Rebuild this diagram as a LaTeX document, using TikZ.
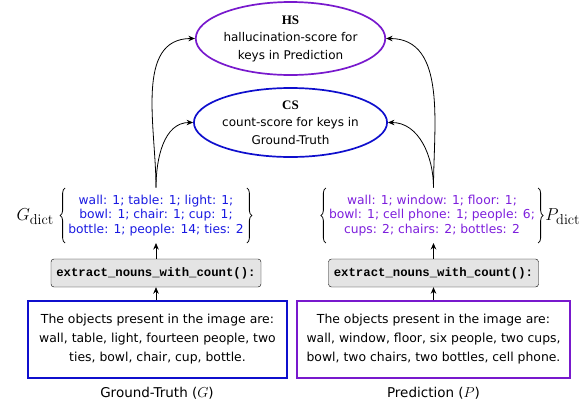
\documentclass[tikz,border=0pt]{standalone}
\usepackage[no-math]{fontspec}
\usetikzlibrary{arrows.meta,shapes.geometric,decorations.pathreplacing,calc}
\newfontfamily\comicf{DejaVu Sans}
\newfontfamily\tahf{DejaVu Sans}
\newfontfamily\codef{Liberation Mono}
\newfontfamily\timesf{Liberation Serif}
\definecolor{gtblue}{RGB}{15,15,205}
\definecolor{dblue}{RGB}{25,25,225}
\definecolor{prpl}{RGB}{120,25,205}
\definecolor{dprpl}{RGB}{125,30,220}
\definecolor{codegray}{RGB}{228,228,228}
\begin{document}
\begin{tikzpicture}[x=1pt,y=-1pt,
  score/.style={ellipse,draw,line width=1.7pt,minimum width=165pt,inner sep=0pt,align=center,font=\tahf\fontsize{12}{17.5}\selectfont},
  codebox/.style={draw,rounded corners=3pt,fill=codegray,minimum width=210pt,minimum height=28pt,inner sep=0pt,font=\codef\bfseries\fontsize{12.3}{14}\selectfont},
  txtbox/.style={draw,line width=1.7pt,minimum height=77pt,inner sep=0pt,align=center,font=\comicf\fontsize{12.4}{19}\selectfont},
  dict/.style={inner sep=0pt,align=center,font=\comicf\fontsize{12.3}{14.5}\selectfont},
  dlabel/.style={inner sep=0pt,font=\fontsize{19}{22}\selectfont},
  captext/.style={inner sep=0pt,font=\tahf\fontsize{13.5}{16}\selectfont},
  bracedeco/.style={decorate,decoration={brace,amplitude=5pt,aspect=0.5},line width=0.8pt},
  arr/.style={-{Stealth[length=6.5pt,width=5.5pt]},line width=0.8pt},
]
\useasboundingbox (0,0) rectangle (586,408);
\node[score,draw=prpl,minimum height=73pt] (hs) at (290.5,38.5)
  {{\timesf\bfseries\fontsize{13}{17.5}\selectfont HS}\\hallucination-score for\\keys in Prediction};
\node[score,draw=gtblue,minimum height=69pt] (cs) at (290.5,122.5)
  {{\timesf\bfseries\fontsize{13}{17.5}\selectfont CS}\\count-score for keys in\\Ground-Truth};
% dictionaries
\node[dict,text=dblue] (gd) at (156,215.5)
  {wall: 1; table: 1; light: 1;\\ bowl: 1; chair: 1; cup: 1;\\ bottle: 1; people: 14; ties: 2};
\node[dict,text=dprpl] (pd) at (432,215.5)
  {wall: 1; window: 1; floor: 1;\\ bowl: 1; cell phone: 1; people: 6;\\ cups: 2; chairs: 2; bottles: 2};
\coordinate (gdt) at ($(gd.center)+(0,-28)$);
\coordinate (gdb) at ($(gd.center)+(0,27.5)$);
\coordinate (pdt) at ($(pd.center)+(0,-28)$);
\coordinate (pdb) at ($(pd.center)+(0,27.5)$);
\draw[bracedeco] ($(gd.west)+(-3,27.5)$) -- ($(gd.west)+(-3,-27.5)$);
\draw[bracedeco] ($(gd.east)+(3,-27.5)$) -- ($(gd.east)+(3,27.5)$);
\draw[bracedeco] ($(pd.west)+(-3,27.5)$) -- ($(pd.west)+(-3,-27.5)$);
\draw[bracedeco] ($(pd.east)+(3,-27.5)$) -- ($(pd.east)+(3,27.5)$);
\node[dlabel,anchor=east] (gl) at ($(gd.west)+(-14,1)$) {$G_{\mathrm{dict}}$};
\node[dlabel,anchor=west] (pl) at ($(pd.east)+(10,1)$) {$P_{\mathrm{dict}}$};
% code boxes
\node[codebox] (gcode) at (156,273) {extract\_nouns\_with\_count():};
\node[codebox] (pcode) at (433.5,273) {extract\_nouns\_with\_count():};
% text boxes
\node[txtbox,draw=gtblue,minimum width=259pt] (gt) at (157.5,339.5)
  {The objects present in the image are:\\wall, table, light, fourteen people, two\\ties, bowl, chair, cup, bottle.};
\node[txtbox,draw=prpl,minimum width=273pt] (pt) at (433.5,339.5)
  {The objects present in the image are:\\wall, window, floor, six people, two cups,\\bowl, two chairs, two bottles, cell phone.};
\node[captext] (gc) at (157,393) {Ground-Truth ($G$)};
\node[captext] (pc) at (433.5,393) {Prediction ($P$)};
% connectors
\draw[arr] (gt.north -| gcode) -- (gcode.south);
\draw[arr] (pt.north -| pcode) -- (pcode.south);
\draw[arr] (gcode.north) -- (gcode.north |- gdb);
\draw[arr] (pcode.north) -- (pcode.north |- pdb);
\draw[arr] (gdt) to[out=90,in=180] (hs.west);
\draw[arr] (gdt) to[out=90,in=180] (cs.west);
\draw[arr] (pdt -| pcode) to[out=90,in=0] (hs.east);
\draw[arr] (pdt -| pcode) to[out=90,in=0] (cs.east);
\end{tikzpicture}
\end{document}
